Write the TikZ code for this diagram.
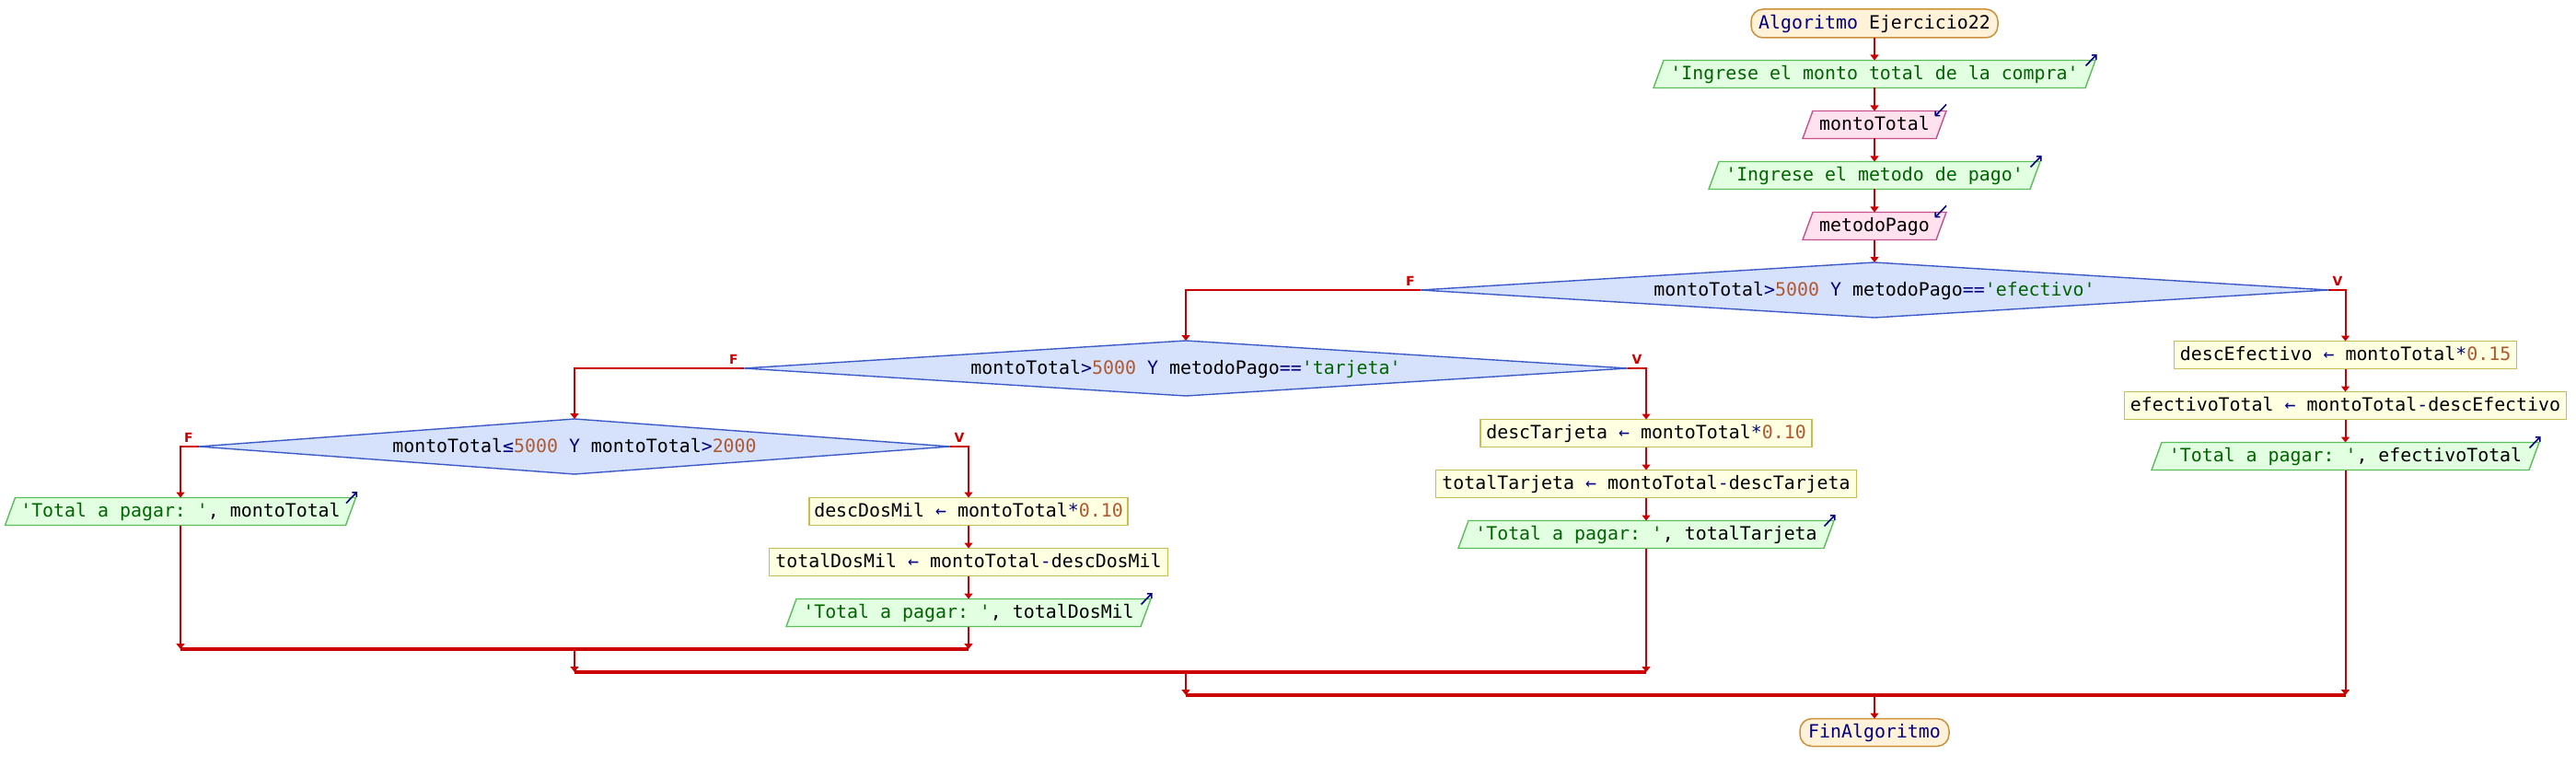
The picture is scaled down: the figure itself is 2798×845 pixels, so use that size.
\documentclass[tikz,border=0pt]{standalone}
\usepackage{fontspec}
\setmonofont{DejaVu Sans Mono}
\setsansfont{DejaVu Sans}
\usetikzlibrary{shapes.geometric,arrows.meta,calc,backgrounds}
\definecolor{cred}{RGB}{204,0,0}
\definecolor{cnavy}{RGB}{0,0,128}
\definecolor{cgreen}{RGB}{0,100,0}
\definecolor{cnum}{RGB}{176,88,48}
\definecolor{startfill}{RGB}{255,242,216}
\definecolor{startdraw}{RGB}{205,145,60}
\definecolor{outfill}{RGB}{226,255,226}
\definecolor{outdraw}{RGB}{90,190,90}
\definecolor{infill}{RGB}{255,226,238}
\definecolor{indraw}{RGB}{200,80,140}
\definecolor{procfill}{RGB}{255,255,226}
\definecolor{procdraw}{RGB}{200,190,80}
\definecolor{decfill}{RGB}{214,226,252}
\definecolor{decdraw}{RGB}{60,90,200}
\newcommand{\cStr}[1]{\textcolor{cgreen}{#1}}
\newcommand{\cOp}[1]{\textcolor{cnavy}{#1}}
\newcommand{\cNum}[1]{\textcolor{cnum}{#1}}
\tikzset{
  mono/.style={font=\ttfamily\fontsize{19.9}{22}\selectfont},
  base/.style={mono, inner sep=0pt, outer sep=0pt, minimum height=30, text height=15, text depth=3, align=center},
  pbox/.style={base, rectangle},
  termbox/.style={base, rectangle, rounded corners=13, fill=startfill, draw=startdraw, line width=1.5, text=cnavy},
  procbox/.style={base, rectangle, fill=procfill, draw=procdraw, line width=1.4},
  decbox/.style={base, diamond, aspect=16, minimum height=60, fill=decfill, draw=decdraw, line width=1.4},
  outsty/.style={fill=outfill, draw=outdraw, line width=1.4},
  insty/.style={fill=infill, draw=indraw, line width=1.4},
  conn/.style={draw=cred, line width=2, -{Triangle[width=9,length=6]}},
  joinline/.style={draw=cred, line width=3.5},
  lbl/.style={font=\sffamily\bfseries\fontsize{14}{14}\selectfont, text=cred, inner sep=0pt},
  icon/.style={draw=cnavy, line width=1.6, -{Straight Barb[length=3.5,width=7]}},
}
% name, x, y, half width, style, text
\newcommand{\flowio}[6]{%
  \node[pbox, minimum width={2*#4}] (#1) at (#2,#3) {#6};
  \begin{scope}[on background layer]
    \draw[#5] ([xshift=-5.5pt]#1.south west) -- ([xshift=5.5pt]#1.north west) -- ([xshift=5.5pt]#1.north east) -- ([xshift=-5.5pt]#1.south east) -- cycle;
  \end{scope}
}
\newcommand{\outicon}[1]{\draw[icon] ($(#1.north east)+(-5,6)$) -- ($(#1.north east)+(7,-6.5)$);}
\newcommand{\inicon}[1]{\draw[icon] ($(#1.north east)+(5.5,-7)$) -- ($(#1.north east)+(-7,6)$);}
\begin{document}
\begin{tikzpicture}[x=1pt,y=-1pt]
\begin{scope}[on background layer]
  \fill[white] (0,0) rectangle (2798,845);
\end{scope}
\useasboundingbox (0,0) rectangle (2798,845);

% main spine
\node[termbox, minimum width=268, minimum height=31] (start) at (2036,25.5) {Algoritmo \textcolor{black}{Ejercicio22}};
\flowio{o1}{2036}{80.5}{234.5}{outsty}{\cStr{'Ingrese el monto total de la compra'}}
\flowio{in1}{2036}{135.5}{72.5}{insty}{montoTotal}
\flowio{o2}{2036}{190.5}{174.5}{outsty}{\cStr{'Ingrese el metodo de pago'}}
\flowio{in2}{2036}{245.5}{72.5}{insty}{metodoPago}
\node[decbox, minimum width=986] (d1) at (2036,315) {montoTotal\cOp{>}\cNum{5000} \cOp{Y} metodoPago\cOp{==}\cStr{'efectivo'}};

% right column
\node[procbox, minimum width=372] (p5) at (2547.5,385.5) {descEfectivo \cOp{←} montoTotal\cOp{*}\cNum{0.15}};
\node[procbox, minimum width=480] (p6) at (2547.5,440.5) {efectivoTotal \cOp{←} montoTotal\cOp{-}descEfectivo};
\flowio{o6}{2547.5}{495.5}{205}{outsty}{\cStr{'Total a pagar: '}, efectivoTotal}

% second decision
\node[decbox, minimum width=960] (d2) at (1288,400) {montoTotal\cOp{>}\cNum{5000} \cOp{Y} metodoPago\cOp{==}\cStr{'tarjeta'}};
\node[procbox, minimum width=360] (p3) at (1788,470.5) {descTarjeta \cOp{←} montoTotal\cOp{*}\cNum{0.10}};
\node[procbox, minimum width=457] (p4) at (1788,525.5) {totalTarjeta \cOp{←} montoTotal\cOp{-}descTarjeta};
\flowio{o5}{1788}{580.5}{198.5}{outsty}{\cStr{'Total a pagar: '}, totalTarjeta}

% third decision
\node[decbox, minimum width=816] (d3) at (624,485) {montoTotal\cOp{≤}\cNum{5000} \cOp{Y} montoTotal\cOp{>}\cNum{2000}};
\flowio{o3}{196}{555.5}{185}{outsty}{\cStr{'Total a pagar: '}, montoTotal}
\node[procbox, minimum width=346] (p1) at (1052,555.5) {descDosMil \cOp{←} montoTotal\cOp{*}\cNum{0.10}};
\node[procbox, minimum width=433] (p2) at (1052,610.5) {totalDosMil \cOp{←} montoTotal\cOp{-}descDosMil};
\flowio{o4}{1052}{665.5}{192.5}{outsty}{\cStr{'Total a pagar: '}, totalDosMil}

\node[termbox, minimum width=162] (fin) at (2036,795.5) {FinAlgoritmo};

% icons
\outicon{o1}
\outicon{o2}
\outicon{o3}
\outicon{o4}
\outicon{o5}
\outicon{o6}
\inicon{in1}
\inicon{in2}

% join coordinates
\coordinate (j1l) at (196,705);
\coordinate (j1m) at (624,705);
\coordinate (j1r) at (1052,705);
\coordinate (j2l) at (624,730);
\coordinate (j2m) at (1288,730);
\coordinate (j2r) at (1788,730);
\coordinate (j3l) at (1288,755);
\coordinate (j3m) at (2036,755);
\coordinate (j3r) at (2547.5,755);

% connectors
\draw[conn] (start.south) -- (o1.north);
\draw[conn] (o1.south) -- (in1.north);
\draw[conn] (in1.south) -- (o2.north);
\draw[conn] (o2.south) -- (in2.north);
\draw[conn] (in2.south) -- (d1.north);

\draw[conn] (d1.west) -| (d2.north);
\draw[conn] (d1.east) -| (p5.north);
\draw[conn] (p5.south) -- (p6.north);
\draw[conn] (p6.south) -- (o6.north);

\draw[conn] (d2.west) -| (d3.north);
\draw[conn] (d2.east) -| (p3.north);
\draw[conn] (p3.south) -- (p4.north);
\draw[conn] (p4.south) -- (o5.north);

\draw[conn] (d3.west) -| (o3.north);
\draw[conn] (d3.east) -| (p1.north);
\draw[conn] (p1.south) -- (p2.north);
\draw[conn] (p2.south) -- (o4.north);

\draw[conn] (o3.south) -- (j1l);
\draw[conn] (o4.south) -- (j1r);
\draw[conn] (j1m) -- (j2l);
\draw[conn] (o5.south) -- (j2r);
\draw[conn] (j2m) -- (j3l);
\draw[conn] (o6.south) -- (j3r);
\draw[conn] (j3m) -- (fin.north);

\draw[joinline] (j1l) -- (j1r);
\draw[joinline] (j2l) -- (j2r);
\draw[joinline] (j3l) -- (j3r);

% branch labels
\node[lbl] (f1) at ($(d1.west)+(-11,-10)$) {F};
\node[lbl] (v1) at ($(d1.east)+(10,-10)$) {V};
\node[lbl] (f2) at ($(d2.west)+(-11,-10)$) {F};
\node[lbl] (v2) at ($(d2.east)+(10,-10)$) {V};
\node[lbl] (f3) at ($(d3.west)+(-11,-10)$) {F};
\node[lbl] (v3) at ($(d3.east)+(10,-10)$) {V};
\end{tikzpicture}
\end{document}
